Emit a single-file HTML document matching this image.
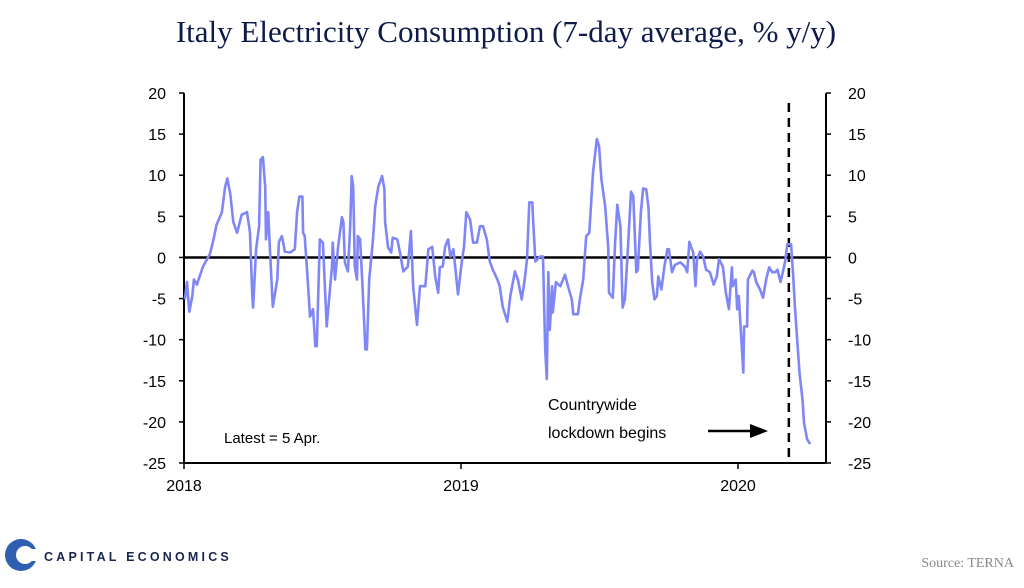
<!DOCTYPE html>
<html><head><meta charset="utf-8"><style>
body{margin:0;background:#fff;width:1024px;height:583px;overflow:hidden;font-family:"Liberation Sans",sans-serif}
</style></head><body>
<svg id="chart" width="1024" height="583" viewBox="0 0 1024 583" xmlns="http://www.w3.org/2000/svg">
<text x="506" y="42" text-anchor="middle" font-family="Liberation Serif, serif" font-size="31" fill="#0d1a4a">Italy Electricity Consumption (7-day average, % y/y)</text>
<g id="axes"></g>
<g id="series"></g>
<text x="224" y="443" font-size="15" fill="#000">Latest = 5 Apr.</text>
<text font-size="16" fill="#000"><tspan x="548" y="410">Countrywide</tspan><tspan x="548" y="438">lockdown begins</tspan></text>
<line x1="708" y1="431" x2="752" y2="431" stroke="#000" stroke-width="2.5"/>
<polygon points="768,431 750,424 750,438" fill="#000"/>
<g>
<circle cx="21" cy="555" r="16" fill="#2f5fb0"/>
<circle cx="25" cy="555" r="9" fill="#fff"/>
<rect x="25" y="549" width="14" height="12" fill="#fff"/>
<text x="44" y="561" font-size="12.5" font-weight="bold" letter-spacing="3.2" fill="#1a2550">CAPITAL ECONOMICS</text>
</g>
<text x="1014" y="567" text-anchor="end" font-family="Liberation Serif, serif" font-size="14" fill="#888">Source: TERNA</text>
</svg>
<script>
const days=[1,4,7,11,13,17,25,34,38,43,50,54,57,61,65,70,76,83,87,90,91,95,99,101,104,107,108,111,113,117,123,125,129,133,140,146,149,152,156,157,159,163,166,170,173,175,179,183,188,190,195,196,199,203,208,210,212,216,219,221,223,225,228,229,232,235,239,241,244,249,252,256,261,264,265,269,273,275,281,285,289,295,299,302,307,311,318,322,327,331,335,337,341,344,348,351,355,361,366,369,372,377,381,386,390,394,399,403,407,413,416,420,426,430,436,440,445,449,452,455,459,460,463,469,473,474,476,478,480,482,485,486,490,496,502,506,511,513,519,522,526,530,534,539,544,547,550,555,559,560,565,568,571,575,578,581,585,589,592,596,598,602,605,609,612,614,617,620,623,625,629,633,637,639,643,647,654,660,663,666,671,674,676,680,684,688,693,698,702,705,710,714,718,722,723,727,729,731,737,738,742,743,749,751,754,759,763,767,771,775,779,782,786,789,792,795,800,803,805,808,811,815,817,821,825];
const values=[-5.1,-3,-6.6,-4.7,-2.7,-3.3,-1.1,0.4,1.8,4,5.5,8.5,9.6,7.7,4.3,3,5.2,5.5,3,-4.7,-6.1,1,3.8,11.9,12.2,8.6,2.2,5.5,1.3,-6,-2.7,1.9,2.6,0.7,0.6,1,5.5,7.4,7.4,3,2.6,-2.7,-7.2,-6.3,-10.8,-10.8,2.2,1.8,-8.4,-6.3,-1.1,1.8,-2.7,1.3,4.9,4.3,-0.6,-1.7,3.8,9.9,8.6,-1.1,-2.7,2.6,2.2,-3,-11.2,-11.2,-2.7,2.2,6.2,8.6,9.9,8.3,4.3,1.2,0.6,2.4,2.2,0.4,-1.7,-1.1,3.2,-3.6,-8.2,-3.5,-3.5,1,1.3,-2.3,-4.3,-1.2,-1.1,1.3,2.2,0.1,1,-4.5,-0.5,1.3,5.5,4.6,1.8,1.8,3.8,3.8,2.2,-0.5,-1.5,-2.7,-3.5,-6,-7.8,-4.7,-1.7,-2.7,-5.1,-2.7,-0.2,6.7,6.7,4.6,-0.5,0.1,0.1,-3.5,-11.2,-14.8,-1.8,-8.8,-3.5,-6.7,-3,-3.5,-2.1,-3.5,-5.1,-6.9,-6.9,-4.9,-2.7,2.6,3,10.3,14.4,13.5,9.5,6.2,1.3,-4.3,-4.9,1.8,6.4,3.8,-6.1,-5.1,1.3,8,7.4,-1.8,-1.5,5.5,8.4,8.3,6.2,1.8,-3,-5.1,-4.7,-2.3,-3.9,-1.1,1,1,-1.8,-0.9,-0.6,-1.1,-1.8,1.9,0.6,-3.5,-0.2,0.7,0.1,-1.5,-1.8,-3.3,-2.3,-0.2,-1.1,-4.3,-6.3,-1.2,-3.5,-2.7,-6.3,-4.7,-14,-8.4,-8.4,-2.7,-1.6,-1.8,-3,-3.9,-4.9,-2.7,-1.2,-1.8,-1.8,-1.5,-3,-1.8,-0.5,1.6,1.6,-2.7,-6,-10,-14,-17.3,-20.1,-22.1,-22.7];
const yTicks=[20,15,10,5,0,-5,-10,-15,-20,-25];
const xTickDays=[0,365,730];
const xTickLabels=["2018","2019","2020"];
const lockdownDay=797;

const NS="http://www.w3.org/2000/svg";
const X0=184,X1=826,Y0=93,Y1=463;
const xs=d=>X0+d*277/365;
const ys=v=>Y0+(20-v)*(Y1-Y0)/45;
function mk(tag,attrs,parent){const e=document.createElementNS(NS,tag);for(const k in attrs)e.setAttribute(k,attrs[k]);parent.appendChild(e);return e;}
const ax=document.getElementById('axes'),se=document.getElementById('series');

let l=mk('line',{x1:X0,y1:Y0,x2:X0,y2:Y1,stroke:'#000','stroke-width':2},ax);


l=mk('line',{x1:X1,y1:Y0,x2:X1,y2:Y1,stroke:'#000','stroke-width':2},ax);


l=mk('line',{x1:X0,y1:Y1,x2:X1,y2:Y1,stroke:'#000','stroke-width':2},ax);


l=mk('line',{x1:X0,y1:ys(0),x2:X1,y2:ys(0),stroke:'#000','stroke-width':2.5},ax);



yTicks.forEach(v=>{
  const y=ys(v);
  mk('line',{x1:X0-5,y1:y,x2:X0,y2:y,stroke:'#000','stroke-width':1.5},ax);
  mk('line',{x1:X1,y1:y,x2:X1+5,y2:y,stroke:'#000','stroke-width':1.5},ax);
  let t=mk('text',{x:166,y:y+6,'text-anchor':'end','font-size':16,fill:'#000'},ax);
  t.textContent=v;
  
  
  t=mk('text',{x:848,y:y+6,'text-anchor':'start','font-size':16,fill:'#000'},ax);
  t.textContent=v;
  
  
});
xTickDays.forEach((d,i)=>{
  const x=xs(d);
  mk('line',{x1:x,y1:Y1,x2:x,y2:Y1+6,stroke:'#000','stroke-width':1.5},ax);
  const t=mk('text',{x:x,y:Y1+28,'text-anchor':'middle','font-size':16,fill:'#000'},ax);
  t.textContent=xTickLabels[i];
  
  
});
const dl=mk('line',{x1:xs(lockdownDay),y1:103,x2:xs(lockdownDay),y2:Y1,stroke:'#000','stroke-width':2.5,'stroke-dasharray':'9,6'},ax);



const pts=days.map((d,i)=>xs(d).toFixed(1)+','+ys(values[i]).toFixed(1)).join(' ');
const pl=mk('polyline',{points:pts,fill:'none',stroke:'#7f86f5','stroke-width':2.6,'stroke-linejoin':'round'},se);


</script>
</body></html>
